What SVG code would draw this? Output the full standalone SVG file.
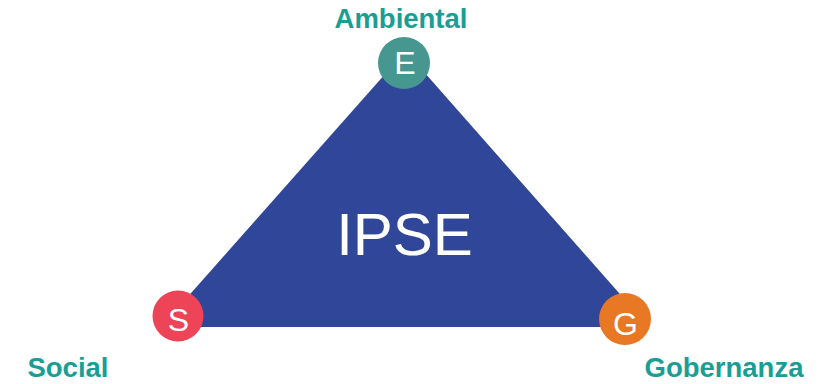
<svg xmlns="http://www.w3.org/2000/svg" width="833" height="384" viewBox="0 0 833 384">
<style>
.lbl{font-family:"Liberation Sans",Arial,sans-serif;font-weight:bold;font-size:27.5px;fill:#1A9E94;text-anchor:middle}
.ltr{font-family:"Liberation Sans",Arial,sans-serif;font-size:32px;fill:#ffffff;text-anchor:middle}
.main{font-family:"Liberation Sans",Arial,sans-serif;font-size:60px;fill:#ffffff;text-anchor:middle}
</style>
<rect width="833" height="384" fill="#ffffff"/>
<g id="triangle">
<polygon points="405.5,51 161,327 649,327" fill="#2F4699"/>
<text class="main" x="404.5" y="255">IPSE</text>
</g>
<g id="connectors"></g>
<g id="node-E">
<circle cx="404" cy="63" r="26" fill="#45978F"/>
<text class="ltr" x="405" y="74">E</text>
<text class="lbl" x="401" y="28">Ambiental</text>
</g>
<g id="node-S">
<circle cx="178" cy="316" r="25.5" fill="#EE4457"/>
<text class="ltr" x="178.5" y="330.5">S</text>
<text class="lbl" x="68" y="377">Social</text>
</g>
<g id="node-G">
<circle cx="625" cy="319" r="26" fill="#E87823"/>
<text class="ltr" x="625.5" y="335">G</text>
<text class="lbl" x="724" y="376.5">Gobernanza</text>
</g>
</svg>
